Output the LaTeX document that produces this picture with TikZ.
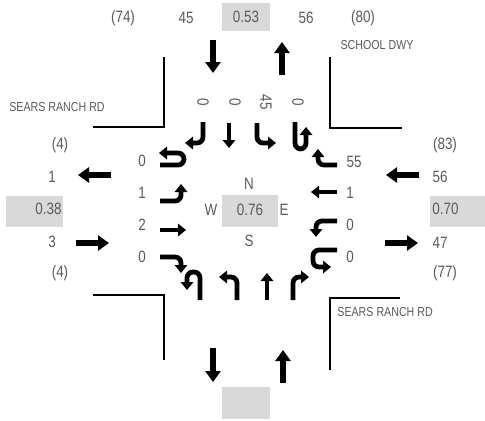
\documentclass[tikz,border=0pt]{standalone}
\usepackage{fontspec}
\setmainfont[FakeStretch=0.82]{Liberation Sans}
\usepackage{tikz}
\usetikzlibrary{arrows.meta,positioning,calc}

\definecolor{txtgray}{HTML}{5A5A5A}
\definecolor{boxgray}{HTML}{D9D9D9}

\begin{document}
\begin{tikzpicture}[x=0.5pt,y=-0.5pt,
  vol/.style={text=txtgray,inner sep=0pt,font=\fontsize{8.2}{9}\selectfont},
  road/.style={text=txtgray,inner sep=0pt,font=\fontsize{6.5}{7}\selectfont},
  curb/.style={line width=1pt},
  big/.style={line width=3pt,-{Triangle[width=7.5pt,length=5.5pt]}},
  lane/.style={line width=2.4pt,rounded corners=3pt,-{Triangle[width=6.2pt,length=4pt]}}]

\useasboundingbox (0,0) rectangle (485,420);

\fill[boxgray] (222,3) rectangle (270,31);
\fill[boxgray] (6,196) rectangle (63,227);
\fill[boxgray] (430,196) rectangle (485,227);
\fill[boxgray] (222,195) rectangle (278,227);
\fill[boxgray] (222,387) rectangle (270,419);

\draw[curb] (164,57) -- (164,127) -- (93,127);
\draw[curb] (330,57) -- (330,128) -- (402,128);
\draw[curb] (93,295) -- (164,295) -- (164,360);
\draw[curb] (400,298) -- (330,298) -- (330,370);

\node[vol] (n74) at (123,18) {(74)};
\node[vol] (n45) at (186,18) {45};
\node[vol] (v53) at (246,17) {0.53};
\node[vol] (n56) at (306,18) {56};
\node[vol] (n80) at (363,18) {(80)};

\node[road] (dwy) at (377,45) {SCHOOL DWY};
\node[road] (srw) at (57,107) {SEARS RANCH RD};
\node[road,anchor=west] (sre) at (337,312) {SEARS RANCH RD};

\node[vol] (w4a) at (60,145) {(4)};
\node[vol] (w1) at (52,177) {1};
\node[vol,anchor=east] (v38) at (62,209) {0.38};
\node[vol] (w3) at (52,242) {3};
\node[vol] (w4b) at (60,273) {(4)};

\node[vol] (e83) at (445,145) {(83)};
\node[vol] (e56) at (440,177) {56};
\node[vol,anchor=west] (v70) at (432,209) {0.70};
\node[vol] (e47) at (440,243) {47};
\node[vol] (e77) at (445,273) {(77)};

\node[vol] (ebu) at (142,161) {0};
\node[vol] (ebl) at (142,193) {1};
\node[vol] (ebt) at (142,225) {2};
\node[vol] (ebr) at (142,257) {0};

\node[vol] (wbr) at (354,162) {55};
\node[vol] (wbt) at (350,193) {1};
\node[vol] (wbl) at (350,225) {0};
\node[vol] (wbu) at (350,257) {0};

\node[vol,rotate=-90] (sbr) at (203,102) {0};
\node[vol,rotate=-90] (sbt) at (235,102) {0};
\node[vol,rotate=-90] (sbl) at (266,102) {45};
\node[vol,rotate=-90] (sbu) at (298,102) {0};

\node[vol] (nn) at (249,184) {N};
\node[vol] (ww) at (211,210) {W};
\node[vol] (v76) at (250,210) {0.76};
\node[vol] (ee) at (284,210) {E};
\node[vol] (ss) at (249,241) {S};

\draw[big] (213,40) -- (213,73);
\draw[big] (282,75) -- (282,42);
\draw[big] (111,175) -- (78,175);
\draw[big] (76,243) -- (109,243);
\draw[big] (419,175) -- (386,175);
\draw[big] (385,243) -- (418,243);
\draw[big] (213,348) -- (213,382);
\draw[big] (283,383) -- (283,350);

\draw[lane] (203,122) -- (203,143) -- (185,143);
\draw[lane] (229,123) -- (229,148);
\draw[lane] (257,123) -- (257,143) -- (276,143);
\draw[lane] (295,122) -- (295,149) -- (306,149) -- (306,127);

\draw[lane] (337,165) -- (318,165) -- (318,149);
\draw[lane] (337,192) -- (311,192);
\draw[lane] (337,221) -- (316,221) -- (316,237);
\draw[lane] (337,250) -- (313,250) -- (313,267) -- (331,267);

\draw[lane] (200,300) -- (200,272) -- (187,272) -- (187,290);
\draw[lane] (237,300) -- (237,277) -- (219,277);
\draw[lane] (267,300) -- (267,273);
\draw[lane] (293,300) -- (293,277) -- (309,277);

\draw[lane] (160,165) -- (184,165) -- (184,153) -- (159,153);
\draw[lane] (160,201) -- (181,201) -- (181,184);
\draw[lane] (160,230) -- (186,230);
\draw[lane] (160,257) -- (181,257) -- (181,273);

\end{tikzpicture}
\end{document}
